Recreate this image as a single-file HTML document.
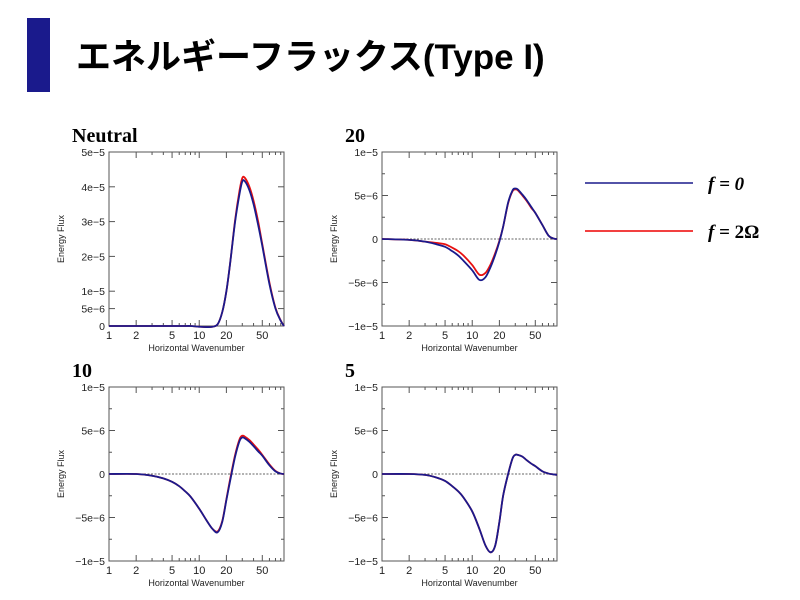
<!DOCTYPE html>
<html><head><meta charset="utf-8"><style>
body{margin:0;background:#fff;}
#wrap{position:relative;width:800px;height:600px;overflow:hidden;background:#fff;}
svg text{font-family:"Liberation Sans",sans-serif;}
</style></head><body>
<div id="wrap">
<svg id="svg" width="800" height="600" xmlns="http://www.w3.org/2000/svg">
<rect x="27" y="18" width="23" height="74" fill="#1a1a8c"/>
<text x="76" y="69" font-size="35" font-weight="bold" fill="#000" style="font-family:'Liberation Sans','Noto Sans CJK JP',sans-serif">エネルギーフラックス(Type I)</text>
<line x1="585" y1="183" x2="693" y2="183" stroke="#1a1a8c" stroke-width="1.5"/>
<text x="708" y="190" font-size="19" font-weight="bold" font-style="italic" style="font-family:'Liberation Serif',serif">f = 0</text>
<line x1="585" y1="231" x2="693" y2="231" stroke="#e00" stroke-width="1.5"/>
<text x="708" y="238" font-size="19" font-weight="bold" style="font-family:'Liberation Serif',serif"><tspan font-style="italic">f</tspan> = 2Ω</text>
<g id="charts"></g>
</svg>
</div>
<script>
const kVals=[1,2,3,4,5,6,7,8,10,12,14,16,18,20,22,25,28,30,32,36,40,45,50,60,70,80,87];
const neutralBlue=[0,0,0,0,0,0,0,0,-0.2,-0.3,-0.2,0.5,4,10,18,30,38,41.5,41.6,39,35,29,23,12,5,1.5,0];
const neutralRed=[0,0,0,0,0,0,0,0,-0.2,-0.3,-0.2,0.5,4,10,18,30.5,39,42.5,42.6,40,36,30,23.5,12.5,5.2,1.6,0];
const p20Blue=[0,-0.1,-0.3,-0.6,-0.9,-1.4,-1.9,-2.5,-3.6,-4.7,-4.4,-3.2,-1.8,-0.3,1.4,4.2,5.6,5.8,5.7,5.1,4.5,3.7,3,1.6,0.4,0.05,0];
const p20Red=[0,-0.1,-0.3,-0.45,-0.6,-1.0,-1.4,-1.9,-3.0,-4.1,-3.9,-2.9,-1.6,-0.2,1.4,4.1,5.5,5.7,5.6,5.0,4.4,3.6,3,1.6,0.4,0.05,0];
const p10Blue=[0,0,-0.2,-0.5,-0.9,-1.4,-2,-2.6,-4,-5.3,-6.3,-6.7,-5.5,-3,-0.8,2,3.8,4.2,4.1,3.7,3.2,2.6,2.1,1.0,0.3,0.05,0];
const p10Red=[0,0,-0.2,-0.5,-0.9,-1.4,-2,-2.6,-4,-5.3,-6.3,-6.6,-5.4,-2.9,-0.6,2.2,4.0,4.4,4.3,3.9,3.4,2.8,2.2,1.1,0.35,0.05,0];
const p5Blue=[0,0,-0.1,-0.4,-0.8,-1.4,-2.0,-2.7,-4.3,-6.3,-8.2,-9,-8.2,-5.5,-2.5,0,1.8,2.2,2.2,2.0,1.6,1.2,0.9,0.3,0.05,-0.05,-0.1];
const p5Red=p5Blue.slice();
const xTickVals=[1,2,5,10,20,50];
const neutralYTicks=[0,5,10,20,30,40,50];
const neutralYLabels=["0","5e−6","1e−5","2e−5","3e−5","4e−5","5e−5"];
const symYTicks=[-10,-5,0,5,10];
const symYLabels=["−1e−5","−5e−6","0","5e−6","1e−5"];
const panelTitles=["Neutral","20","10","5"];

const NS="http://www.w3.org/2000/svg";
const root=document.getElementById('charts');
function mk(tag,attrs,parent){const e=document.createElementNS(NS,tag);for(const k in attrs)e.setAttribute(k,attrs[k]);(parent||root).appendChild(e);return e;}
const XMAX=87;
function panel(px,py,title,ymin,ymax,yt,yl,blue,red,minorStep,dashed,nm){
  const w=175,h=174;
  const g=mk('g',{});
  
  
  const X=k=>px+Math.log10(k)/Math.log10(XMAX)*w;
  const Y=v=>py+h-(v-ymin)/(ymax-ymin)*h;
  const t=mk('text',{x:px-37,y:py-10,'font-size':20,'font-weight':'bold',style:"font-family:'Liberation Serif',serif"},g);
  t.textContent=title;
  
  
  const fr=mk('rect',{x:px,y:py,width:w,height:h,fill:'none',stroke:'#555','stroke-width':1},g);
  
  
  for(let d=1;d<=80;d*= 10){for(let m=1;m<=9;m++){const k=d*m;if(k>XMAX||k===1)continue;const major=xTickVals.includes(k);const L=major?6:3;const x=X(k);
    mk('line',{x1:x,y1:py+h,x2:x,y2:py+h-L,stroke:'#555','stroke-width':1},g);
    mk('line',{x1:x,y1:py,x2:x,y2:py+L,stroke:'#555','stroke-width':1},g);}}
  xTickVals.forEach(k=>{const tx=mk('text',{x:X(k),y:py+h+13,'font-size':11,'text-anchor':'middle',fill:'#222'},g);tx.textContent=k;
    
    });
  for(let v=ymin;v<=ymax+1e-9;v+=minorStep){const major=yt.some(a=>Math.abs(a-v)<1e-9);const L=major?6:3;const y=Y(v);
    mk('line',{x1:px,y1:y,x2:px+L,y2:y,stroke:'#555','stroke-width':1},g);
    mk('line',{x1:px+w,y1:y,x2:px+w-L,y2:y,stroke:'#555','stroke-width':1},g);}
  yt.forEach((v,i)=>{const y=Y(v);if(!(v%minorStep===0)){mk('line',{x1:px,y1:y,x2:px+6,y2:y,stroke:'#555'},g);mk('line',{x1:px+w,y1:y,x2:px+w-6,y2:y,stroke:'#555'},g);}
    const ty=mk('text',{x:px-4,y:y+4,'font-size':10.5,'text-anchor':'end',fill:'#222'},g);ty.textContent=yl[i];
    
    });
  const xt=mk('text',{x:px+w/2,y:py+h+25,'font-size':9,'text-anchor':'middle',fill:'#222'},g);xt.textContent='Horizontal Wavenumber';
  
  
  const yx=px-45,yy=py+h/2;
  const ytt=mk('text',{x:yx,y:yy,'font-size':9,'text-anchor':'middle',fill:'#222',transform:`rotate(-90 ${yx} ${yy})`},g);ytt.textContent='Energy Flux';
  
  
  if(dashed){const zl=mk('line',{x1:px,y1:Y(0),x2:px+w,y2:Y(0),stroke:'#333','stroke-width':0.8,'stroke-dasharray':'2,1.5'},g);
    
    }
  function path(vals,col,n){const pts=kVals.map((k,i)=>[X(k),Y(vals[i])]);
    let d='M'+pts[0][0].toFixed(2)+','+pts[0][1].toFixed(2);
    for(let i=0;i<pts.length-1;i++){const p0=pts[Math.max(0,i-1)],p1=pts[i],p2=pts[i+1],p3=pts[Math.min(pts.length-1,i+2)];
      const c1=[p1[0]+(p2[0]-p0[0])/6,p1[1]+(p2[1]-p0[1])/6],c2=[p2[0]-(p3[0]-p1[0])/6,p2[1]-(p3[1]-p1[1])/6];
      d+=` C${c1[0].toFixed(2)},${c1[1].toFixed(2)} ${c2[0].toFixed(2)},${c2[1].toFixed(2)} ${p2[0].toFixed(2)},${p2[1].toFixed(2)}`;}
    const e=mk('path',{d:d,fill:'none',stroke:col,'stroke-width':1.8},g);
    
    }
  path(red,'#e81010',nm+'-line-f2omega');
  path(blue,'#1a1a8c',nm+'-line-f0');
}
panel(109,152,panelTitles[0],0,50,neutralYTicks,neutralYLabels,neutralBlue,neutralRed,10,false,'neutral');
panel(382,152,panelTitles[1],-10,10,symYTicks,symYLabels,p20Blue,p20Red,2.5,true,'p20');
panel(109,387,panelTitles[2],-10,10,symYTicks,symYLabels,p10Blue,p10Red,2.5,true,'p10');
panel(382,387,panelTitles[3],-10,10,symYTicks,symYLabels,p5Blue,p5Red,2.5,true,'p5');
</script>
</body></html>
